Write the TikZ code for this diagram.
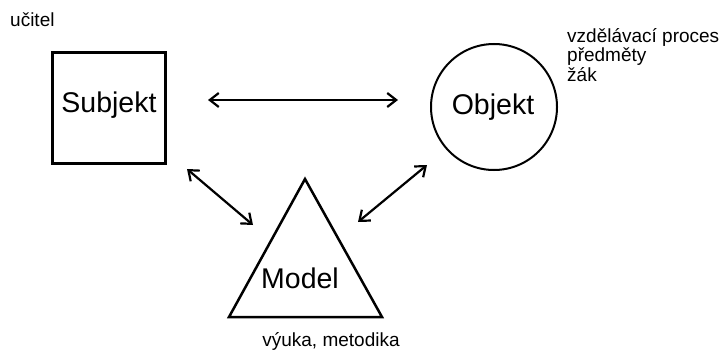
\documentclass[tikz,border=0pt]{standalone}
\usepackage{fontspec}
\setmainfont{Liberation Sans}
\usetikzlibrary{arrows.meta}
\begin{document}
\begin{tikzpicture}[x=1pt,y=-1pt,
  big/.style={font=\fontsize{28.5}{30}\selectfont, inner sep=0pt},
  small/.style={font=\fontsize{19}{19.5}\selectfont, inner sep=0pt},
  conn/.style={line width=2.2pt, {Straight Barb[length=9pt,width=14pt]}-{Straight Barb[length=9pt,width=14pt]}}]
\useasboundingbox (0,0) rectangle (719,353);
% Subjekt
\node[draw, line width=2.6pt, minimum width=113pt, minimum height=111pt, inner sep=0pt] (sq) at (109,108) {};
\node[big] (subj) at (109,105) {Subjekt};
\node[small, anchor=west] (ucitel) at (10,20) {učitel};
% Objekt
\node[draw, circle, line width=2pt, minimum size=126pt, inner sep=0pt] (ci) at (494,107) {};
\node[big] (obj) at (493,107) {Objekt};
\node[small, anchor=north west, align=left] (objl) at (567,28) {vzdělávací proces\\předměty\\žák};
% Model
\coordinate (ta) at (305,179);
\coordinate (tl) at (229,317);
\coordinate (tr) at (382,317);
\draw[line width=2.5pt, line join=miter] (ta) -- (tl) -- (tr) -- cycle;
\node[big] (mod) at (300,278) {Model};
\node[small] (modl) at (331,341) {výuka, metodika};
% arrows
\coordinate (h1) at (208,100);
\coordinate (h2) at (398,100);
\coordinate (l1) at (187,169);
\coordinate (l2) at (253,225);
\coordinate (r1) at (427,165);
\coordinate (r2) at (358,222);
\draw[conn] (h1) -- (h2);
\draw[conn] (l1) -- (l2);
\draw[conn] (r1) -- (r2);
\end{tikzpicture}
\end{document}
